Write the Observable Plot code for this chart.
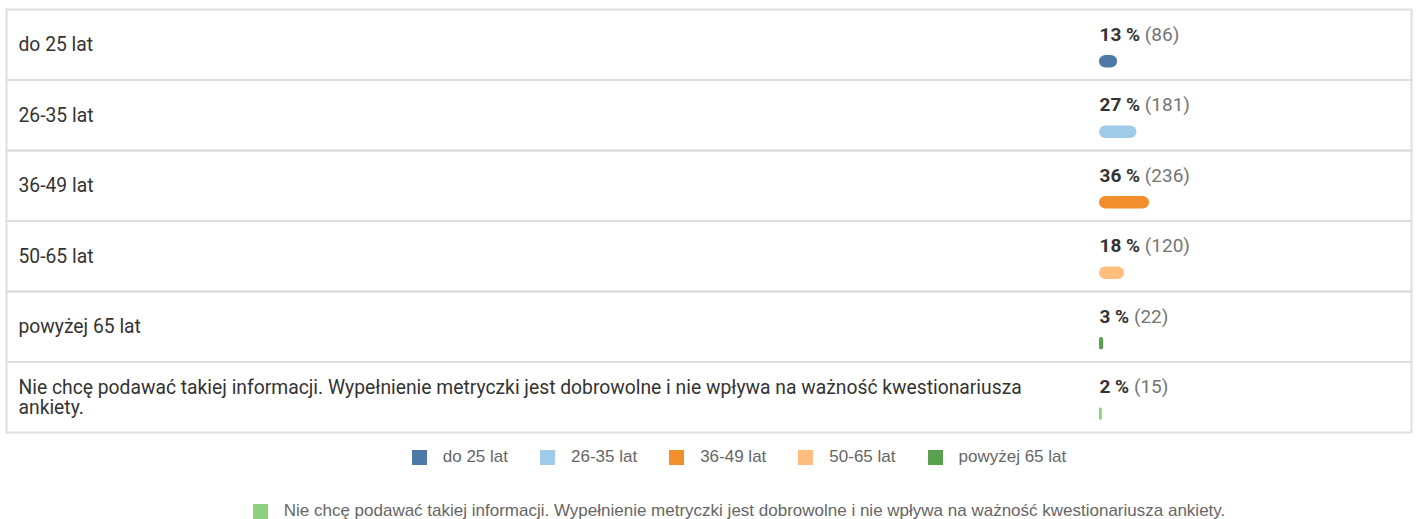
<!DOCTYPE html>
<html><head><meta charset="utf-8">
<script src="https://cdn.jsdelivr.net/npm/d3@7"></script>
<script src="https://cdn.jsdelivr.net/npm/@observablehq/plot@0.6"></script>
<style>
body{margin:0;background:#fff;}
#legend{font-family:"Liberation Sans",Arial,sans-serif;font-size:17px;color:#666;padding-left:62px;margin-top:7px;}
.lrow{display:flex;justify-content:center;align-items:center;height:20px;}
.lrow + .lrow{margin-top:34px;}
.item{display:flex;align-items:center;margin:0 16px;}
.sw{width:15px;height:15px;margin-right:16px;}
</style></head><body><div id="chart"></div><div id="legend"></div>
<script>
const categories = ["do 25 lat","26-35 lat","36-49 lat","50-65 lat","powyżej 65 lat","Nie chcę podawać takiej informacji. Wypełnienie metryczki jest dobrowolne i nie wpływa na ważność kwestionariusza ankiety."];
const percents = [13,27,36,18,3,2];
const counts = [86,181,236,120,22,15];
const colors = ["#4e79a7","#a0cbe8","#f28e2b","#ffbe7d","#59a14f","#8cd17d"];
const legendRows = [[0,1,2,3,4],[5]];

const data = categories.map((c,i)=>({cat:c, pct:percents[i], n:counts[i], label:`${percents[i]} % (${counts[i]})`}));

function splitLabel(index, scales, values, dimensions, context, next) {
  const g = next(index, scales, values, dimensions, context);
  d3.select(g).selectAll("text").each(function(){
    const t = this.textContent;
    const m = t.match(/^(.*%)\s(.*)$/);
    if (!m) return;
    this.textContent = "";
    d3.select(this).append("tspan").attr("font-weight","bold").attr("fill","#333").text(m[1]);
    d3.select(this).append("tspan").attr("fill","#757575").text(" " + m[2]);
  });
  return g;
}

function roundBars(index, scales, values, dimensions, context, next) {
  const g = next(index, scales, values, dimensions, context);
  d3.select(g).selectAll("rect").each(function(){
    const w = +this.getAttribute("width");
    const r = Math.min(6.5, w / 2);
    this.setAttribute("rx", r);
    this.setAttribute("ry", Math.min(6.5, Math.max(r, 1)));
  });
  return g;
}

const chart = Plot.plot({
  width: 1416,
  height: 440,
  marginTop: 9,
  marginBottom: 8,
  marginLeft: 6,
  marginRight: 5,
  style: {fontFamily: "Roboto, sans-serif", fontSize: "19px", color: "#333", background: "#fff"},
  x: {domain: [0, 100], range: [1099, 1238], axis: null},
  fy: {domain: categories, padding: 0, round: false, axis: null},
  color: {domain: categories, range: colors},
  marks: [
    Plot.frame({stroke: "#dedede", strokeWidth: 2}),
    Plot.text(data, {fy: "cat", text: "cat", frameAnchor: "left", dx: 12, textAnchor: "start", lineWidth: 60.5, lineHeight: 1.05, fill: "#333", fontSize: 19.3}),
    Plot.text(data, {fy: "cat", x: 0, text: "label", frameAnchor: "top", dy: 25, textAnchor: "start", lineAnchor: "middle", fontSize: 19, render: splitLabel}),
    Plot.barX(data, {fy: "cat", x1: 0, x2: "pct", fill: "cat", insetTop: 46, insetBottom: 12, render: roundBars})
  ]
});
document.getElementById("chart").appendChild(chart);

const legend = document.getElementById("legend");
legendRows.forEach(row => {
  const r = document.createElement("div");
  r.className = "lrow";
  row.forEach(i => {
    const it = document.createElement("div");
    it.className = "item";
    const sw = document.createElement("span");
    sw.className = "sw";
    sw.style.background = colors[i];
    const tx = document.createElement("span");
    tx.textContent = categories[i];
    it.appendChild(sw); it.appendChild(tx);
    r.appendChild(it);
  });
  legend.appendChild(r);
});
</script></body></html>
